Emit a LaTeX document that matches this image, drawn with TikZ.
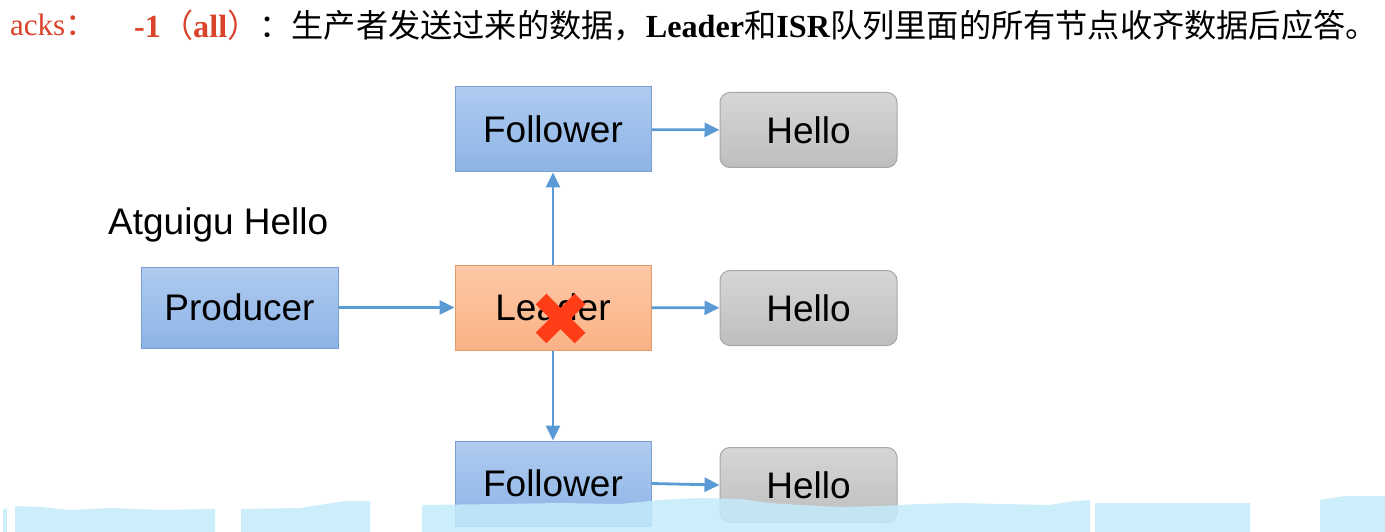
\documentclass[tikz,border=0pt]{standalone}
\usepackage{fontspec}
\setmainfont{Liberation Serif}
\newfontfamily\cjk{Noto Sans CJK SC}
\newfontfamily\arialf{Liberation Sans}
\usetikzlibrary{arrows.meta}
\definecolor{arr}{HTML}{5B9BD5}
\definecolor{bluetop}{HTML}{AFCBF0}
\definecolor{bluebot}{HTML}{8DB4E6}
\definecolor{blueedge}{HTML}{7A9FCF}
\definecolor{ortop}{HTML}{FDC8A6}
\definecolor{orbot}{HTML}{FAB286}
\definecolor{oredge}{HTML}{E39A6A}
\definecolor{grtop}{HTML}{D6D6D6}
\definecolor{grbot}{HTML}{BEBEBE}
\definecolor{gredge}{HTML}{A6A6A6}
\definecolor{ackred}{HTML}{D9432A}
\definecolor{xred}{HTML}{FF3D17}
\definecolor{band}{HTML}{C4EBFA}
\tikzset{
  box/.style={minimum width=196pt, minimum height=85pt, inner sep=0pt,
    font=\arialf\fontsize{37}{44}\selectfont, text=black},
  bluebox/.style={box, draw=blueedge, line width=1pt, top color=bluetop, bottom color=bluebot},
  orangebox/.style={box, draw=oredge, line width=1pt, top color=ortop, bottom color=orbot},
  hellobox/.style={box, minimum width=177pt, minimum height=75pt, rounded corners=10pt,
    draw=gredge, line width=1pt, top color=grtop, bottom color=grbot},
  link/.style={draw=arr, line width=2.8pt, -{Triangle[length=15pt,width=14pt]}},
}
\begin{document}
\begin{tikzpicture}[x=1pt,y=-1pt]
\useasboundingbox (0,0) rectangle (1385,532);
\fill[white] (0,0) rectangle (1385,532);
% header
\node[anchor=west, inner sep=0pt, text=ackred, font=\fontsize{31}{36}\selectfont] (acks) at (10,25) {acks\cjk：};
\node[anchor=west, inner sep=0pt, font=\fontsize{32.2}{38}\selectfont] (title) at (134,25)
  {\textcolor{ackred}{\textbf{-1}{\cjk （}\textbf{all}{\cjk ）}}{\cjk ：生产者发送过来的数据，}\textbf{Leader}{\cjk 和}\textbf{ISR}{\cjk 队列里面的所有节点收齐数据后应答。}};
% nodes
\node[bluebox] (f1) at (553,129.5) {Follower};
\node[hellobox] (h1) at (808.5,130) {Hello};
\node[anchor=west, inner sep=0pt, font=\arialf\fontsize{37}{44}\selectfont] (msg) at (108,225) {Atguigu Hello};
\node[bluebox, minimum width=197pt, minimum height=81pt] (prod) at (239.5,307.5) {Producer};
\node[orangebox] (lead) at (553,307.5) {Leader};
\node[hellobox] (h2) at (808.5,308) {Hello};
\node[bluebox] (f2) at (553,483.5) {Follower};
\node[hellobox] (h3) at (808.5,485) {Hello};
% connectors
\draw[link] (prod) -- (lead);
\draw[link] (lead) -- (f1);
\draw[link] (lead) -- (f2);
\draw[link] (f1) -- (h1);
\draw[link] (lead) -- (h2);
\draw[link] (f2.east) -- (h3.west);
% red cross
\draw[xred, line width=15pt] (541,299) -- (580,338) (580,299) -- (541,338);
% bottom band
\fill[band, opacity=0.85]
  (3,532) -- (3,510) -- (7,508) -- (7,532) -- cycle
  (15,532) -- (15,506) -- (40,507) -- (70,510) -- (110,508) -- (160,510) -- (215,509) -- (215,532) -- cycle
  (241,532) -- (241,509) -- (300,508) -- (345,501) -- (370,501) -- (370,532) -- cycle
  (422,532) -- (422,505) -- (500,504) -- (560,503) -- (620,504) -- (660,500) -- (700,498) -- (740,499) -- (770,503) -- (800,505) -- (840,507) -- (880,506) -- (920,504) -- (960,503) -- (1000,504) -- (1050,505) -- (1075,501) -- (1090,500) -- (1090,532) -- cycle
  (1095,532) -- (1095,503) -- (1250,503) -- (1250,532) -- cycle
  (1320,532) -- (1320,500) -- (1345,496) -- (1385,496) -- (1385,532) -- cycle;
\end{tikzpicture}
\end{document}
